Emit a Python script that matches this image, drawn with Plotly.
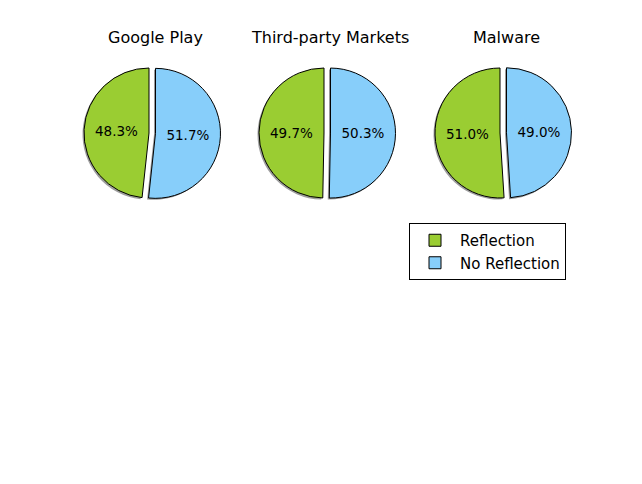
import plotly.graph_objects as go

W, H = 642, 484
titles = ["Google Play", "Third-party Markets", "Malware"]
labels = ["Reflection", "No Reflection"]
reflection = [48.3, 49.7, 51.0]
no_reflection = [51.7, 50.3, 49.0]
colors = ["#9ACD32", "#87CEFA"]
pulls = [0, 0.1]

centers_px = [(149, 133), (324, 133), (500, 133)]
radius_px = 65
box = radius_px * (2 + 2 * max(pulls))

fig = go.Figure()

def dom(cx, cy):
    return dict(x=[(cx - box / 2) / W, (cx + box / 2) / W],
                y=[1 - (cy + box / 2) / H, 1 - (cy - box / 2) / H])

# Plotted in reverse order, clockwise from 12 o'clock, so that "Reflection"
# sweeps counter-clockwise from 12 o'clock (matplotlib startangle=90).
rl = labels[::-1]
rc = colors[::-1]
rp = pulls[::-1]

# shadows
for i in range(3):
    cx, cy = centers_px[i]
    fig.add_trace(go.Pie(
        labels=rl, values=[no_reflection[i], reflection[i]],
        sort=False, direction="clockwise", rotation=0, pull=rp,
        marker=dict(colors=["rgba(60,60,60,0.5)", "rgba(60,60,60,0.5)"],
                    line=dict(width=0)),
        textinfo="none", hoverinfo="skip", showlegend=False,
        domain=dom(cx - 1.5, cy + 1.5)))

for i in range(3):
    cx, cy = centers_px[i]
    fig.add_trace(go.Pie(
        labels=rl, values=[no_reflection[i], reflection[i]],
        sort=False, direction="clockwise", rotation=0, pull=rp,
        marker=dict(colors=rc, line=dict(color="black", width=1)),
        texttemplate="%{percent:.1%}", textposition="inside",
        insidetextorientation="horizontal",
        textfont=dict(color="black", size=13.5, family="DejaVu Sans"),
        showlegend=(i == 0), name=titles[i],
        domain=dom(cx, cy)))
    fig.add_annotation(text=titles[i], x=(cx + 6) / W, y=1 - 38 / H,
                       xref="paper", yref="paper", showarrow=False,
                       xanchor="center", yanchor="middle",
                       font=dict(size=16, color="black", family="DejaVu Sans"))

fig.update_layout(
    width=W, height=H, margin=dict(l=0, r=0, t=0, b=0),
    paper_bgcolor="white", plot_bgcolor="white",
    legend=dict(x=409 / W, y=1 - 223 / H, xanchor="left", yanchor="top",
                bordercolor="black", borderwidth=1, bgcolor="white",
                font=dict(size=15, color="black", family="DejaVu Sans"),
                traceorder="reversed", tracegroupgap=0, itemwidth=40),
)
fig.write_html("out.html", config={"displayModeBar": False})
with open("out.html", encoding="utf-8") as f:
    html = f.read()
html = html.replace("<body>", '<body style="margin:0;overflow:hidden">', 1)
with open("out.html", "w", encoding="utf-8") as f:
    f.write(html)
